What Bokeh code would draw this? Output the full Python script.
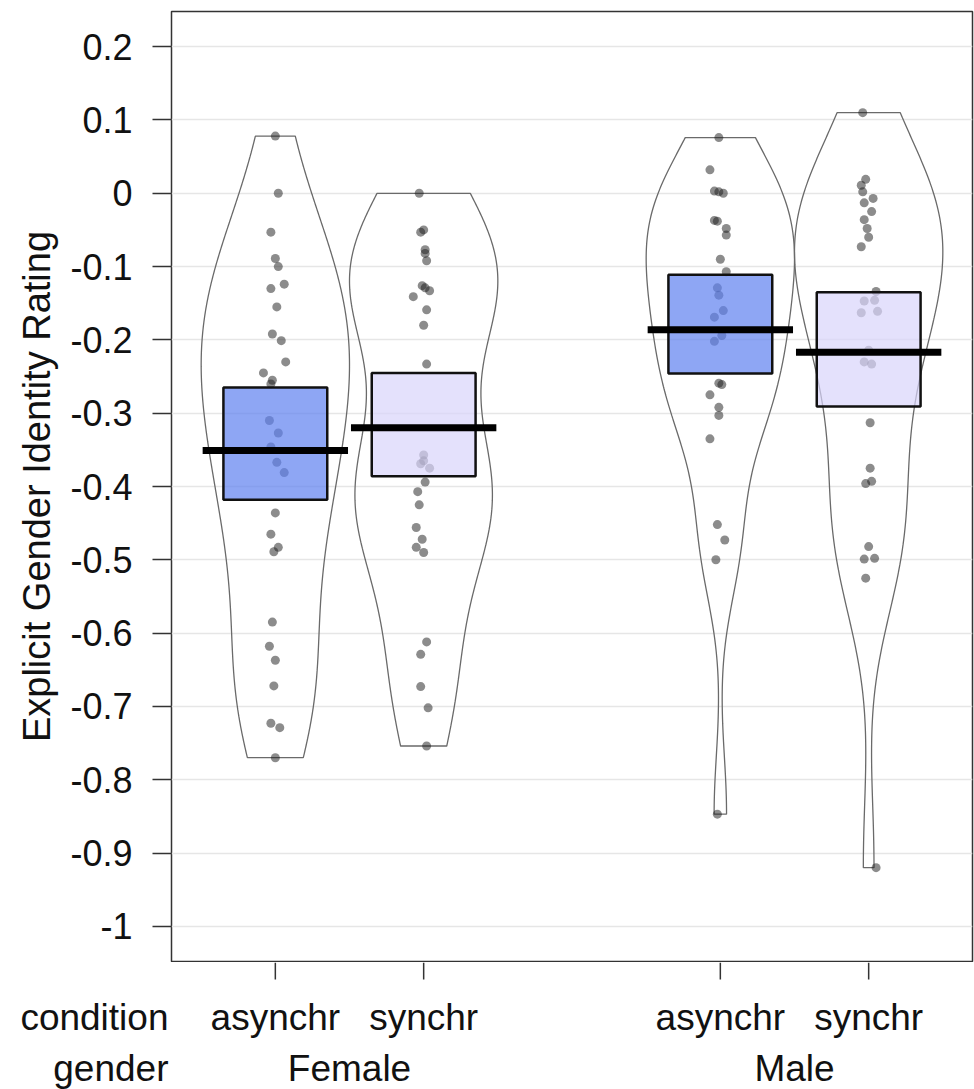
import numpy as np
from bokeh.plotting import figure
from bokeh.layouts import column
from bokeh.models import FixedTicker, Range1d
from bokeh.core.properties import value
from bokeh.embed import file_html
from bokeh.resources import INLINE

# ---------------- data ----------------
conditions = ["asynchr", "synchr", "asynchr", "synchr"]
genders = ["Female", "Male"]
row_titles = ["condition", "gender"]
group_pos = [1, 2, 4, 5]          # bean positions (condition within gender)
gender_pos = [1.5, 4.5]

female_asynchr = [0.078, 0.000, -0.053, -0.089, -0.100, -0.124, -0.130, -0.155, -0.192, -0.201,
                  -0.230, -0.245, -0.255, -0.260, -0.310, -0.327, -0.346, -0.367, -0.381, -0.436,
                  -0.465, -0.483, -0.489, -0.585, -0.618, -0.637, -0.672, -0.723, -0.729, -0.770]
female_synchr = [0.000, -0.050, -0.053, -0.077, -0.082, -0.092, -0.126, -0.129, -0.133, -0.141,
                 -0.159, -0.180, -0.233, -0.357, -0.365, -0.369, -0.375, -0.394, -0.407, -0.425,
                 -0.456, -0.472, -0.483, -0.490, -0.612, -0.629, -0.673, -0.702, -0.754]
male_asynchr = [0.076, 0.032, 0.003, 0.002, 0.000, -0.037, -0.038, -0.048, -0.057, -0.090,
                -0.107, -0.129, -0.139, -0.160, -0.169, -0.194, -0.202, -0.259, -0.261, -0.275,
                -0.292, -0.303, -0.335, -0.452, -0.473, -0.500, -0.847]
male_synchr = [0.110, 0.019, 0.011, 0.002, -0.007, -0.013, -0.025, -0.036, -0.048, -0.060,
               -0.073, -0.134, -0.147, -0.146, -0.163, -0.161, -0.214, -0.230, -0.233, -0.313,
               -0.375, -0.396, -0.393, -0.482, -0.499, -0.498, -0.525, -0.920]

# horizontal jitter of each point
jit_female_asynchr = [0, 0.02, -0.03, 0, 0.02, 0.06, -0.03, 0.01, -0.02, 0.04,
                      0.07, -0.08, -0.02, -0.03, -0.04, 0.02, -0.03, 0.01, 0.06, 0,
                      -0.03, 0.02, -0.01, -0.02, -0.04, 0, -0.01, -0.03, 0.03, 0]
jit_female_synchr = [-0.03, 0, -0.02, 0.01, 0.01, 0.02, -0.01, 0.01, 0.04, -0.07,
                     0.02, 0, 0.02, 0, 0, -0.02, 0.04, 0.01, -0.04, -0.03,
                     -0.05, -0.01, -0.05, 0, 0.02, -0.02, -0.02, 0.03, 0.02]
jit_male_asynchr = [-0.01, -0.07, -0.04, -0.01, 0.02, -0.04, -0.02, 0.04, 0.04, 0,
                    0.04, -0.02, -0.01, 0.02, -0.04, 0.01, -0.04, -0.01, 0.01, -0.07,
                    -0.01, -0.01, -0.07, -0.02, 0.03, -0.03, -0.02]
jit_male_synchr = [-0.04, -0.02, -0.05, -0.04, 0.03, -0.03, 0.02, -0.03, -0.01, 0,
                   -0.05, 0.05, -0.03, 0.04, -0.05, 0.06, 0, -0.03, 0.02, 0.01,
                   0.01, -0.02, 0.02, 0, -0.03, 0.04, -0.02, 0.05]

means = [-0.351, -0.320, -0.186, -0.217]
ci_lower = [-0.418, -0.386, -0.246, -0.291]
ci_upper = [-0.265, -0.245, -0.111, -0.135]

y_ticks = [-1.0, -0.9, -0.8, -0.7, -0.6, -0.5, -0.4, -0.3, -0.2, -0.1, 0.0, 0.1, 0.2]
y_tick_labels = ["-1", "-0.9", "-0.8", "-0.7", "-0.6", "-0.5", "-0.4", "-0.3", "-0.2", "-0.1", "0", "0.1", "0.2"]

groups = [female_asynchr, female_synchr, male_asynchr, male_synchr]
jitters = [jit_female_asynchr, jit_female_synchr, jit_male_asynchr, jit_male_synchr]
box_colors = ["#5E80EF", "#D8D4FB", "#5E80EF", "#D8D4FB"]

FONT = "Liberation Sans"
W = 974
LEFT, RIGHT = 171, 2
MAIN_H = 962                 # main panel (frame bottom at y = 961)
NAMES_H = 1089 - MAIN_H      # strip with tick marks and names

xr = Range1d(0.3, 5.7)
p = figure(width=W, height=MAIN_H, output_backend="svg", toolbar_location=None,
           x_range=xr, y_range=Range1d(-1.048, 0.248), x_axis_location=None,
           min_border_left=LEFT, min_border_right=RIGHT, min_border_top=11, min_border_bottom=1)
p.background_fill_color = "white"
p.border_fill_color = "white"
p.outline_line_color = "#333333"
p.outline_line_width = 1.5
p.outline_line_alpha = 1.0


def bw_nrd0(x):
    x = np.asarray(x, dtype=float)
    hi = np.std(x, ddof=1)
    q75, q25 = np.percentile(x, [75, 25])
    lo = min(hi, (q75 - q25) / 1.34)
    return 0.9 * lo * len(x) ** (-0.2)


def bean(x, center, wmax=0.5):
    x = np.asarray(x, dtype=float)
    bw = bw_nrd0(x)
    ys = np.linspace(x.min(), x.max(), 300)
    d = np.exp(-0.5 * ((ys[:, None] - x[None, :]) / bw) ** 2).sum(axis=1)
    d = d / d.max() * wmax
    xs = np.concatenate([center - d, (center + d)[::-1]])
    yy = np.concatenate([ys, ys[::-1]])
    return xs, yy


# beans
for vals, c in zip(groups, group_pos):
    bx, by = bean(vals, c)
    p.patch(bx, by, fill_color=None, line_color="#6a6a6a", line_width=1.3)

# points
for vals, jit, c in zip(groups, jitters, group_pos):
    p.scatter([c + j for j in jit], vals, size=9, fill_color="#1a1a1a", fill_alpha=0.5,
              line_color=None)

# inference boxes
p.quad(left=[c - 0.35 for c in group_pos], right=[c + 0.35 for c in group_pos],
       bottom=ci_lower, top=ci_upper, fill_color=box_colors, fill_alpha=0.7,
       line_color="#111111", line_width=2.5)

# mean lines
p.segment(x0=[c - 0.49 for c in group_pos], x1=[c + 0.49 for c in group_pos],
          y0=means, y1=means, line_color="black", line_width=7, line_cap="butt")

# y axis
p.yaxis.ticker = FixedTicker(ticks=y_ticks)
p.yaxis.major_label_overrides = {t: l for t, l in zip(y_ticks, y_tick_labels)}
p.yaxis.axis_line_color = None
p.yaxis.major_tick_out = 19
p.yaxis.major_tick_in = 0
p.yaxis.major_tick_line_color = "#333333"
p.yaxis.major_tick_line_width = 1.5
p.yaxis.minor_tick_line_color = None
p.yaxis.major_label_text_font = FONT
p.yaxis.major_label_text_font_size = "36px"
p.yaxis.major_label_text_color = "#111111"
p.yaxis.major_label_standoff = 20
p.yaxis.axis_label = "Explicit Gender Identity Rating"
p.yaxis.axis_label_text_font = FONT
p.yaxis.axis_label_text_font_size = "38px"
p.yaxis.axis_label_text_font_style = "normal"
p.yaxis.axis_label_text_color = "#111111"
p.yaxis.axis_label_standoff = 9

p.xgrid.grid_line_color = None
p.ygrid.ticker = FixedTicker(ticks=y_ticks)
p.ygrid.grid_line_color = "#e6e6e6"
p.ygrid.grid_line_width = 1.5

# ---------------- strip below: tick marks, names, row titles ----------------
row1_mid = 1017 - MAIN_H
row2_mid = 1068 - MAIN_H
q = figure(width=W, height=NAMES_H, output_backend="svg", toolbar_location=None,
           x_range=xr, y_range=Range1d(NAMES_H, 0), x_axis_location=None,
           min_border_left=LEFT, min_border_right=RIGHT, min_border_top=0, min_border_bottom=0)
q.grid.grid_line_color = None
q.outline_line_color = None
q.background_fill_color = "white"
q.border_fill_color = "white"

# tick marks under the frame
q.segment(x0=group_pos, x1=group_pos, y0=[0] * len(group_pos), y1=[17] * len(group_pos),
          line_color="#333333", line_width=1.5)

q.text(x=group_pos, y=[row1_mid] * len(group_pos), text=conditions,
       text_align="center", text_baseline="middle", text_font=value(FONT),
       text_font_size="37px", text_color="#111111")
q.text(x=gender_pos, y=[row2_mid] * len(gender_pos), text=genders,
       text_align="center", text_baseline="middle", text_font=value(FONT),
       text_font_size="37px", text_color="#111111")

# row titles as left-axis labels of the strip
q.yaxis.ticker = FixedTicker(ticks=[row1_mid, row2_mid])
q.yaxis.major_label_overrides = {row1_mid: row_titles[0], row2_mid: row_titles[1]}
q.yaxis.axis_line_color = None
q.yaxis.major_tick_out = 0
q.yaxis.major_tick_in = 0
q.yaxis.minor_tick_line_color = None
q.yaxis.major_label_standoff = 3
q.yaxis.major_label_text_font = FONT
q.yaxis.major_label_text_font_size = "37px"
q.yaxis.major_label_text_color = "#111111"

layout = column(p, q, spacing=0)
open("out.html", "w").write(file_html(layout, INLINE))
